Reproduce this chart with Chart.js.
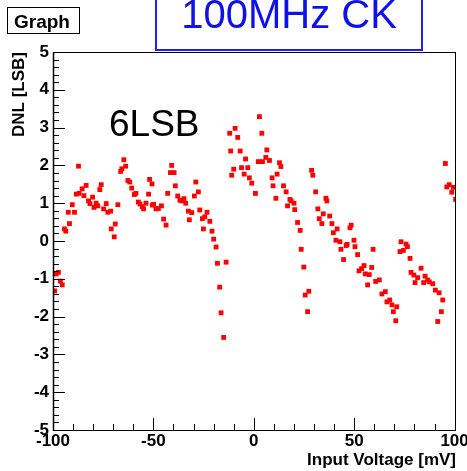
<!DOCTYPE html>
<html><head><meta charset="utf-8">
<script src="https://cdn.jsdelivr.net/npm/chart.js@4.4.1/dist/chart.umd.min.js"></script>
<style>html,body{margin:0;padding:0;background:#fff;overflow:hidden}</style>
</head><body>
<canvas id="c" width="467" height="471"></canvas>
<script>
// Input voltage (mV) of each measured code
const voltage = [
 -100,-99.2,-98.4,-97.3,-96.3,-95.4,-94.3,-93.6,-92.4,-91.8,-90.4,-89.3,-88.4,-87.3,-87.0,-85.5,-84.6,-83.5,-82.3,-81.6,
 -80.3,-79.6,-78.5,-77.7,-76.7,-76.0,-74.8,-73.5,-72.7,-71.3,-71.0,-69.5,-69.0,-67.7,-66.3,-65.7,-64.7,-63.8,-62.7,-61.8,
 -60.8,-59.5,-58.7,-57.5,-56.7,-55.5,-54.9,-53.7,-52.4,-51.9,-50.7,-50.5,-49.9,-48.7,-47.5,-46.0,-44.9,-43.7,-42.9,-41.5,
 -40.9,-39.7,-39.1,-37.9,-36.8,-35.9,-34.8,-33.9,-32.6,-32.1,-30.9,-29.6,-28.9,-27.6,-26.9,-25.6,-25.1,-24.4,-23.3,-21.9,
 -20.8,-20.0,-18.8,-18.1,-17.0,-16.3,-15.0,-13.8,-12.0,-11.5,-11.0,-10.0,-9.3,-8.0,-6.8,-6.1,-4.8,-4.1,-3.0,-2.2,
 -1.0,0.8,2.2,2.8,4.0,4.3,6.0,6.5,7.8,9.1,9.6,11.0,11.6,12.8,13.5,14.8,16.1,16.8,18.0,18.6,
 20.0,20.4,21.8,23.1,23.6,24.9,25.6,26.8,27.4,28.8,29.4,30.8,31.9,32.6,33.9,34.6,35.9,36.4,37.8,38.9,
 39.6,40.9,41.5,42.9,43.4,44.7,46.0,46.5,47.9,48.5,49.9,50.4,51.7,52.4,53.7,54.9,55.5,56.7,57.5,58.7,
 59.4,60.7,62.5,63.8,65.5,66.3,67.7,68.8,69.5,70.7,71.2,72.8,73.3,74.5,75.8,76.5,77.8,78.3,79.7,80.3,
 81.6,83.3,84.6,85.3,86.6,87.4,89.1,90.4,91.6,92.3,93.4,94.1,95.4,96.1,97.3,98.6,99.4,100.5
];
// Differential non-linearity (LSB)
const dnl = [
 -0.87,-1.32,-0.87,-0.83,-1.06,-1.16,0.32,0.26,0.76,0.46,0.96,0.76,1.24,1.98,1.26,1.38,1.20,1.47,1.06,0.99,
 1.16,0.89,1.00,0.93,1.36,1.49,0.85,0.99,0.76,0.79,0.32,0.11,0.45,0.96,1.84,1.91,2.15,1.98,1.60,1.56,
 1.40,1.23,1.26,1.03,0.98,0.91,0.85,1.00,1.24,1.63,1.51,0.95,0.97,0.85,0.86,0.93,0.58,0.42,1.26,1.81,
 2.00,1.81,1.46,1.19,1.08,1.06,1.12,1.00,0.79,0.56,0.75,1.19,1.56,1.30,0.82,0.59,0.32,0.64,0.76,0.52,
 0.26,0.05,-0.16,-0.59,-1.22,-1.90,-2.55,-0.56,2.85,2.38,1.74,1.90,2.98,2.74,2.38,1.94,1.77,2.17,1.94,1.67,
 1.53,1.26,2.10,3.29,2.85,2.10,2.21,2.41,2.13,1.67,1.46,1.13,1.77,2.07,1.97,1.46,1.30,0.93,1.10,1.06,
 1.00,0.83,0.49,0.28,-0.22,-0.69,-1.43,-1.87,-1.33,1.87,1.74,1.30,0.85,0.59,0.46,0.72,1.13,1.06,0.66,0.46,
 0.22,0.02,0.32,-0.02,-0.22,-0.49,-0.12,-0.09,0.35,0.42,0.02,-0.15,-0.36,-0.79,-0.73,-0.65,-0.87,-1.16,-0.89,-0.70,
 -0.22,-1.07,-1.03,-1.40,-1.34,-1.61,-1.56,-1.69,-1.87,-2.11,-1.74,-0.28,-0.02,-0.25,-0.08,-0.15,-0.46,-0.83,-0.90,-1.10,
 -0.97,-0.72,-1.10,-0.93,-1.03,-1.08,-1.13,-1.30,-2.13,-1.37,-1.87,-1.56,2.05,1.43,1.49,1.29,1.42,1.10
];
const xTickValues = [-100, -50, 0, 50, 100];
const yTickValues = [-5, -4, -3, -2, -1, 0, 1, 2, 3, 4, 5];
const xTitle = 'Input Voltage [mV]';
const yTitle = 'DNL [LSB]';
const graphLabel = 'Graph';
const titleText = '100MHz CK';
const noteText = '6LSB';

const points = voltage.map((v, i) => ({x: v, y: dnl[i]}));
const boldFont = {family: "'Liberation Sans', Arial, sans-serif", size: 17, weight: 'bold'};

const decor = {
  id: 'decor',
  afterDraw(chart) {
    const ctx = chart.ctx;
    const xs = chart.scales.x, ys = chart.scales.y;
    const a = chart.chartArea;
    ctx.save();
    // frame
    ctx.strokeStyle = '#000';
    ctx.lineWidth = 1;
    ctx.strokeRect(Math.round(a.left) + 0.5, Math.round(a.top) + 0.5, Math.round(a.right - a.left) - 1, Math.round(a.bottom - a.top));
    // y ticks (inward)
    ctx.beginPath();
    for (let k = 0; k <= 50; k++) {
      const v = -5 + k * 0.2;
      const py = Math.round(ys.getPixelForValue(v)) + 0.5;
      const len = (k % 5 === 0) ? 12 : 6;
      ctx.moveTo(a.left, py); ctx.lineTo(a.left + len, py);
    }
    // x ticks (inward)
    for (let v = -100; v <= 100; v += 10) {
      const px = Math.round(xs.getPixelForValue(v)) + 0.5;
      const len = (v % 50 === 0) ? 12 : 6;
      ctx.moveTo(px, a.bottom); ctx.lineTo(px, a.bottom - len);
    }
    ctx.stroke();
    // left axis line a bit heavier
    ctx.lineWidth = 1.5;
    ctx.beginPath(); ctx.moveTo(a.left + 0.5, a.top); ctx.lineTo(a.left + 0.5, a.bottom + 1); ctx.stroke();

    // "Graph" box
    ctx.lineWidth = 1;
    ctx.fillStyle = '#fff';
    ctx.fillRect(7, 7, 73, 27);
    ctx.strokeRect(7.5, 7.5, 72, 26);
    ctx.fillStyle = '#000';
    ctx.font = "bold 19px 'Liberation Sans', Arial, sans-serif";
    ctx.textBaseline = 'alphabetic';
    ctx.textAlign = 'left';
    ctx.fillText(graphLabel, 14, 28);

    // title box
    ctx.strokeStyle = '#1f1fff';
    ctx.lineWidth = 2;
    ctx.strokeRect(156, -4, 266, 54);
    ctx.fillStyle = '#1010e8';
    ctx.font = "40px 'Liberation Sans', Arial, sans-serif";
    ctx.textAlign = 'center';
    ctx.fillText(titleText, 289, 28);

    // annotation
    ctx.fillStyle = '#000';
    ctx.font = "37px 'Liberation Sans', Arial, sans-serif";
    ctx.textAlign = 'left';
    ctx.fillText(noteText, 109, 136);
    ctx.restore();
  }
};

new Chart(document.getElementById('c'), {
  type: 'scatter',
  data: {
    datasets: [{
      data: points,
      pointStyle: 'rect',
      pointRadius: 3.4,
      pointBorderWidth: 0,
      backgroundColor: '#ff0000',
      borderColor: '#ff0000',
      showLine: false
    }]
  },
  options: {
    responsive: false,
    animation: false,
    devicePixelRatio: 1,
    layout: {padding: {left: 0, top: 52, right: 11, bottom: 0}},
    plugins: {legend: {display: false}, tooltip: {enabled: false}},
    scales: {
      x: {
        type: 'linear', min: -100, max: 100.7,
        afterBuildTicks(s) { s.ticks = xTickValues.map(v => ({value: v})); },
        afterFit(s) { s.height = 41; s.paddingLeft = 0; s.paddingRight = 0; },
        grid: {display: false, drawTicks: false},
        border: {display: false},
        ticks: {color: '#000', font: boldFont, padding: 1, maxRotation: 0, autoSkip: false},
        title: {display: true, text: xTitle, align: 'end', color: '#000', font: boldFont, padding: {top: 0, bottom: 0}}
      },
      y: {
        type: 'linear', min: -5, max: 5,
        afterBuildTicks(s) { s.ticks = yTickValues.map(v => ({value: v})); },
        afterFit(s) { s.width = 53; s.paddingTop = 0; s.paddingBottom = 0; },
        grid: {display: false, drawTicks: false},
        border: {display: false},
        ticks: {color: '#000', font: boldFont, padding: 4, autoSkip: false},
        title: {display: true, text: yTitle, align: 'end', color: '#000', font: boldFont, padding: {top: 9, bottom: 0}}
      }
    }
  },
  plugins: [decor]
});
</script>
</body></html>
